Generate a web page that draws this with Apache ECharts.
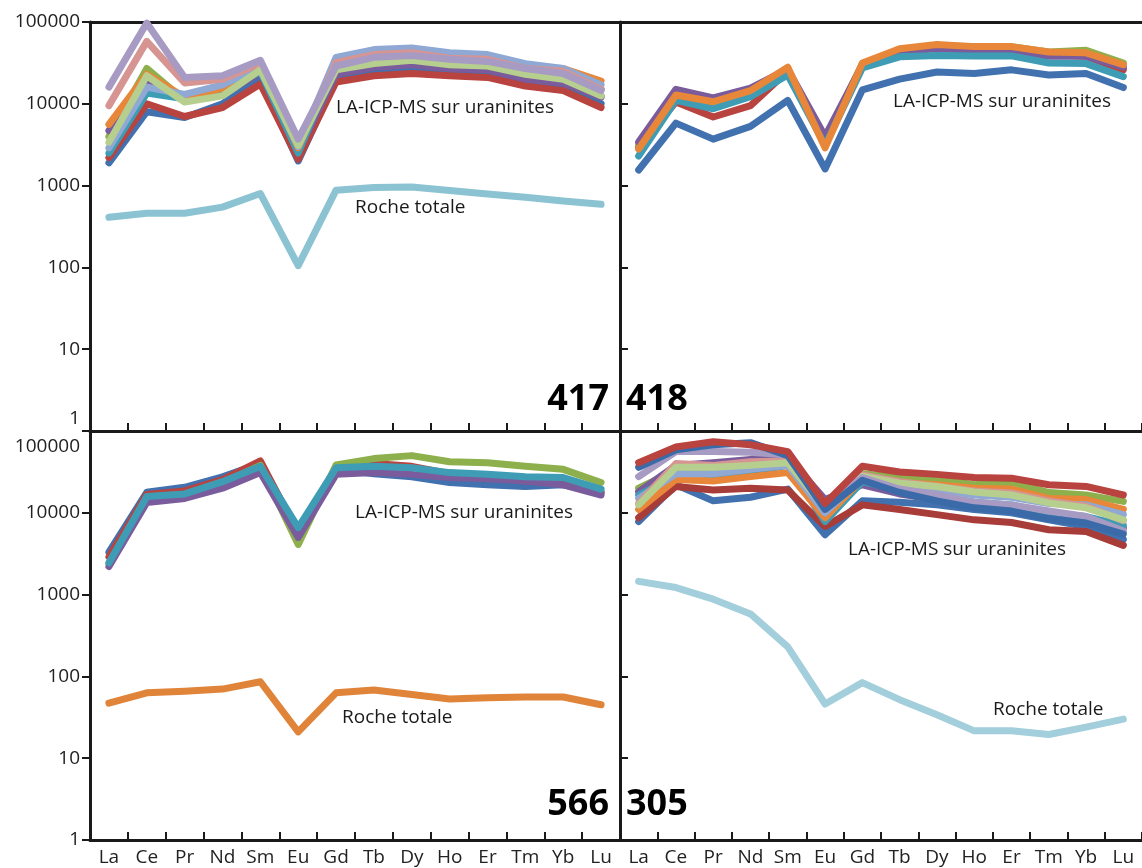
<!DOCTYPE html>
<html>
<head>
<meta charset="utf-8">
<script src="https://cdn.jsdelivr.net/npm/echarts@6/dist/echarts.min.js"></script>
<style>
html,body{margin:0;padding:0;background:#fff;}
#c{width:1142px;height:868px;}
</style>
</head>
<body>
<div id="c"></div>
<script>
// ---- categories & ticks ----
const elements = ['La','Ce','Pr','Nd','Sm','Eu','Gd','Tb','Dy','Ho','Er','Tm','Yb','Lu'];
const yMin = 1, yMax = 100000;
const panelNames = ['417','418','566','305'];
const labelLA = 'LA-ICP-MS sur uraninites';
const labelRT = 'Roche totale';

// ---- panel 417 (top left) ----
const p417_blue      = [1900, 8000, 6800, 10000, 20000, 2000, 20000, 24000, 26000, 24000, 23000, 18000, 16000, 10000];
const p417_red       = [2200, 10000, 7000, 9000, 17500, 2100, 18500, 22000, 23500, 22000, 21000, 16500, 14500, 9000];
const p417_green     = [4000, 27000, 11000, 14000, 26000, 2700, 25000, 31000, 33000, 29000, 28000, 22000, 20000, 12500];
const p417_purple    = [4700, 20000, 11500, 13000, 24000, 2600, 23000, 28000, 30000, 27000, 26000, 20000, 18000, 12000];
const p417_teal      = [2500, 13500, 11500, 14000, 25000, 2500, 34000, 42000, 44000, 40000, 38000, 28000, 25000, 15000];
const p417_orange    = [5600, 23000, 12000, 15500, 30000, 2900, 33000, 43000, 45000, 38000, 36000, 28000, 27000, 19000];
const p417_lightblue = [2900, 16000, 13000, 17000, 28000, 3000, 37000, 46000, 48000, 42000, 40000, 31000, 27000, 17000];
const p417_pink      = [9500, 58000, 18000, 20000, 31000, 3200, 32000, 40000, 42000, 36000, 35000, 27000, 25000, 15000];
const p417_lightgreen= [3400, 22000, 10500, 12500, 26000, 3100, 26000, 31000, 34000, 30000, 29000, 23000, 20000, 12500];
const p417_lavender  = [16000, 97000, 21000, 22000, 34000, 3700, 29000, 37000, 39000, 35000, 33000, 27000, 23500, 14500];
const p417_roche     = [410, 460, 460, 545, 800, 105, 880, 950, 960, 870, 790, 720, 650, 590];

// ---- panel 418 (top right) ----
const p418_blue   = [1550, 5800, 3700, 5300, 11000, 1600, 14800, 20000, 24500, 23500, 26000, 22500, 23500, 15800];
const p418_red    = [3000, 10500, 6900, 9500, 25000, 3700, 30000, 42000, 48000, 47000, 46000, 40000, 38000, 26000];
const p418_green  = [3100, 12000, 9500, 12500, 26000, 3500, 31000, 45000, 51000, 50000, 50000, 43000, 45000, 31500];
const p418_purple = [3400, 15000, 11800, 15500, 26500, 4000, 30000, 45000, 47000, 45000, 45000, 38000, 38000, 28000];
const p418_teal   = [2300, 11000, 8700, 12200, 22500, 3100, 27500, 37500, 39000, 38500, 38500, 31500, 31000, 21500];
const p418_orange = [2800, 12800, 10600, 14500, 28000, 2900, 31500, 47000, 53000, 50000, 50000, 43000, 42000, 30000];

// ---- panel 566 (bottom left) ----
const p566_blue   = [3300, 17800, 20500, 27500, 40000, 6000, 34000, 30000, 27500, 23500, 22000, 21000, 22000, 18000];
const p566_red    = [2900, 16800, 18500, 25500, 43000, 5600, 36000, 40000, 37000, 30000, 28000, 24500, 23000, 17500];
const p566_green  = [2400, 15000, 16500, 23000, 38000, 4100, 38500, 46000, 50000, 42000, 41000, 37000, 34000, 23500];
const p566_purple = [2200, 13400, 15000, 20000, 31000, 5000, 29500, 31000, 29500, 27000, 26000, 24500, 22000, 16500];
const p566_teal   = [2450, 15800, 17000, 24000, 37000, 6600, 35500, 37000, 35500, 31000, 29500, 27500, 27000, 19500];
const p566_roche  = [47, 63, 66, 70, 86, 21, 63, 68, 60, 53, 55, 56, 56, 45];

// ---- panel 305 (bottom right) ----
const p305_blue      = [7800, 22000, 14000, 15500, 19500, 5400, 14000, 13500, 12500, 11000, 10000, 8200, 6800, 4700];
const p305_red       = [41000, 64000, 74000, 68000, 56000, 13000, 37000, 31500, 29500, 27000, 26500, 22000, 21000, 16500];
const p305_green     = [20000, 33000, 32000, 36000, 40000, 11000, 30000, 27000, 25500, 22000, 23500, 17700, 16500, 13800];
const p305_purple    = [18000, 38000, 41000, 45000, 48000, 14500, 22000, 17000, 14500, 12500, 11500, 9500, 8500, 6500];
const p305_teal      = [16500, 28000, 27000, 31500, 38000, 7800, 24000, 19000, 16000, 13500, 12500, 10000, 9000, 7000];
const p305_orange    = [11000, 25500, 24500, 27700, 31000, 8700, 26000, 23500, 22000, 20000, 19500, 15000, 14500, 11000];
const p305_lightblue = [15000, 30000, 30000, 34000, 38000, 10000, 27000, 22000, 19500, 16500, 15500, 13000, 12500, 9500];
const p305_pink      = [13000, 40000, 38000, 42000, 43000, 11500, 29000, 24000, 21000, 18500, 17500, 14000, 12000, 8000];
const p305_lightgreen= [12500, 36000, 36000, 38000, 41000, 11500, 28000, 23000, 21000, 18000, 16500, 13200, 11500, 8200];
const p305_lavender  = [27700, 56000, 56000, 55000, 51000, 12500, 27000, 19500, 16500, 13500, 12500, 10500, 9000, 6000];
const p305_darkblue  = [36000, 59000, 68000, 72000, 50000, 11000, 25000, 17700, 14000, 11500, 10500, 8500, 7500, 5500];
const p305_darkred   = [8700, 21000, 19000, 20000, 19000, 6800, 12500, 11000, 9500, 8200, 7600, 6200, 5900, 4000];
const p305_roche     = [1450, 1220, 880, 580, 230, 46, 84, 52, 34, 21.6, 21.6, 19.5, 24, 30];

// ---- colours ----
const C = {
  blue:'#4171AE', red:'#B8433F', green:'#8DB04C', purple:'#7A5C9C', teal:'#3E9DB5',
  orange:'#E8873A', lightblue:'#8FA8D4', pink:'#D69592', lightgreen:'#B6CF8F',
  lavender:'#A89BC3', darkblue:'#3A6AA8', darkred:'#A83C38',
  roche417:'#8BC3D3', roche566:'#E0843A', roche305:'#A3CEDB'
};

function mk(idx, data, color){
  return {
    type:'line', xAxisIndex:idx, yAxisIndex:idx, data:data,
    symbol:'none', showSymbol:false, silent:true, animation:false,
    lineStyle:{width:7, color:color, join:'round', cap:'round'},
    itemStyle:{color:color}, z:3
  };
}

const series = [
  mk(0,p417_blue,C.blue), mk(0,p417_red,C.red), mk(0,p417_green,C.green), mk(0,p417_purple,C.purple),
  mk(0,p417_teal,C.teal), mk(0,p417_orange,C.orange), mk(0,p417_lightblue,C.lightblue), mk(0,p417_pink,C.pink),
  mk(0,p417_lightgreen,C.lightgreen), mk(0,p417_lavender,C.lavender), mk(0,p417_roche,C.roche417),

  mk(1,p418_blue,C.blue), mk(1,p418_red,C.red), mk(1,p418_green,C.green), mk(1,p418_purple,C.purple),
  mk(1,p418_teal,C.teal), mk(1,p418_orange,C.orange),

  mk(2,p566_blue,C.blue), mk(2,p566_red,C.red), mk(2,p566_green,C.green), mk(2,p566_purple,C.purple),
  mk(2,p566_teal,C.teal), mk(2,p566_roche,C.roche566),

  mk(3,p305_blue,C.blue), mk(3,p305_darkred,C.darkred), mk(3,p305_green,C.green), mk(3,p305_purple,C.purple),
  mk(3,p305_teal,C.teal), mk(3,p305_orange,C.orange), mk(3,p305_lightblue,C.lightblue), mk(3,p305_pink,C.pink),
  mk(3,p305_lightgreen,C.lightgreen), mk(3,p305_lavender,C.lavender), mk(3,p305_darkblue,C.darkblue),
  mk(3,p305_red,C.red), mk(3,p305_roche,C.roche305)
];

const AX = '#1a1a1a';
const FONT = '"Open Sans", "Noto Sans", sans-serif';
const LFS = 19;

function xAx(idx, showLabels){
  return {
    type:'category', gridIndex:idx, data:elements, boundaryGap:true, position:'bottom',
    axisLine:{show:true, onZero:false, lineStyle:{color:AX, width:3}},
    axisTick:{show:true, inside:true, length:8, lineStyle:{color:AX, width:2}},
    axisLabel:{show:showLabels, color:'#222', fontSize:LFS, fontFamily:FONT, margin:8, interval:0},
    splitLine:{show:false}
  };
}
function xTop(idx){
  return {
    type:'category', gridIndex:idx, data:elements, position:'top',
    axisLine:{show:true, onZero:false, lineStyle:{color:AX, width:3}},
    axisTick:{show:false}, axisLabel:{show:false}, splitLine:{show:false}
  };
}
// label formatter: plain numbers; boundary labels nudged inside their panel
function yFmt(nudge){
  return function(v){
    const s = String(Math.round(v));
    if (nudge === 'min' && Math.round(v) === yMin) return '{lo|' + s + '}';
    if (nudge === 'max' && Math.round(v) === yMax) return '{hi|' + s + '}';
    return s;
  };
}
function yAx(idx, showLabels, inside, nudge){
  return {
    type:'log', logBase:10, gridIndex:idx, min:yMin, max:yMax,
    axisLine:{show:true, onZero:false, lineStyle:{color:AX, width:3}},
    axisTick:{show:true, inside:inside, length:8, lineStyle:{color:AX, width:2}},
    axisLabel:{show:showLabels, color:'#222', fontSize:LFS, fontFamily:FONT, margin:10,
      showMinLabel:true, showMaxLabel:true, hideOverlap:false,
      formatter:yFmt(nudge),
      rich:{
        lo:{fontSize:LFS, fontFamily:FONT, color:'#222', padding:[0,0,24,0]},
        hi:{fontSize:LFS, fontFamily:FONT, color:'#222', padding:[32,0,0,0]}
      }},
    splitLine:{show:false}
  };
}

const grids = [
  {left:90, top:22, width:530, height:409},
  {left:620, top:22, width:530, height:409},
  {left:90, top:431, width:530, height:409},
  {left:620, top:431, width:530, height:409}
];

function txt(x, y, s, align){
  return {type:'text', x:x, y:y, z:10, silent:true,
    style:{text:s, fill:'#1a1a1a', font:'19px ' + FONT, align:align||'left', verticalAlign:'middle'}};
}
function num(x, y, s, align){
  return {type:'text', x:x, y:y, z:10, silent:true,
    style:{text:s, fill:'#000', font:'bold 36px ' + FONT, align:align, verticalAlign:'middle'}};
}

const option = {
  backgroundColor:'#fff',
  animation:false,
  grid:grids,
  xAxis:[xAx(0,false), xAx(1,false), xAx(2,true), xAx(3,true), xTop(0), xTop(1)],
  yAxis:[
    yAx(0,true,false,'min'),
    yAx(1,false,true),
    yAx(2,true,false,'max'),
    yAx(3,false,true)
  ],
  series:series,
  graphic:[
    txt(336,108,labelLA), txt(355,208,labelRT),
    txt(893,102,labelLA),
    txt(355,513,labelLA), txt(342,718,labelRT),
    txt(848,550,labelLA), txt(993,710,labelRT),
    num(609,400,panelNames[0],'right'), num(626,400,panelNames[1],'left'),
    num(609,805,panelNames[2],'right'), num(626,805,panelNames[3],'left')
  ]
};

const chart = echarts.init(document.getElementById('c'), null, {renderer:'canvas'});
chart.setOption(option);
</script>
</body>
</html>
